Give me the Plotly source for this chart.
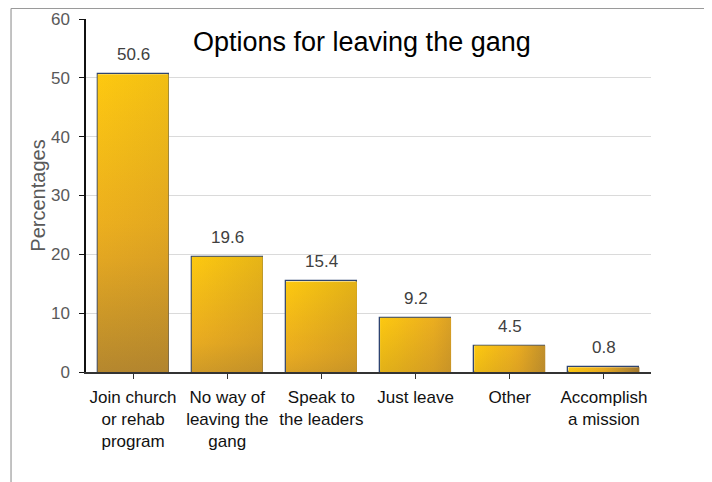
import plotly.graph_objects as go

categories = ["Join church<br>or rehab<br>program", "No way of<br>leaving the<br>gang",
              "Speak to<br>the leaders", "Just leave", "Other", "Accomplish<br>a mission"]
values = [50.6, 19.6, 15.4, 9.2, 4.5, 0.8]
value_labels = ["50.6", "19.6", "15.4", "9.2", "4.5", "0.8"]
y_ticks = [0, 10, 20, 30, 40, 50, 60]

# layout geometry (figure is offset 8px by the page margin)
FIG_W, FIG_H = 704, 474
M_L, M_R, M_T, M_B = 78, 61, 11, 110
PLOT_W = FIG_W - M_L - M_R
PLOT_H = FIG_H - M_T - M_B
Y_MAX = 60
BAR_W = 0.754

# gradient stops (position along diagonal, rgb)
GRAD = [(0.0, (253, 201, 16)), (0.45, (234, 172, 32)), (0.8, (182, 136, 46)), (1.0, (150, 110, 45))]
DARK = GRAD[-1][1]
# alpha needed to blend yellow->dark to approximate GRAD at t
ALPHA = [(0.0, 0.0), (0.45, 0.27), (0.8, 0.72), (1.0, 1.0)]


def interp(stops, t):
    for (t0, c0), (t1, c1) in zip(stops, stops[1:]):
        if t <= t1:
            f = (t - t0) / (t1 - t0) if t1 > t0 else 0
            if isinstance(c0, tuple):
                return tuple(round(a + (b - a) * f) for a, b in zip(c0, c1))
            return c0 + (c1 - c0) * f
    return stops[-1][1]


def rgb(c, a=1.0):
    return f"rgba({c[0]},{c[1]},{c[2]},{a:.3f})"


fig = go.Figure()
xs = list(range(len(categories)))
N = 8
for i, v in zip(xs, values):
    px = [i - BAR_W / 2, i + BAR_W / 2, i + BAR_W / 2, i - BAR_W / 2, i - BAR_W / 2]
    py = [0, 0, v, v, 0]
    w_px = BAR_W * PLOT_W / len(categories)
    h_px = v * PLOT_H / Y_MAX
    p = w_px / (w_px + h_px)  # horizontal share
    q = 1 - p                 # vertical share
    s_list = [k / N for k in range(N + 1)]
    if q >= p:
        base = dict(type="vertical",
                    colorscale=[[1 - s, rgb(interp(GRAD, q * s))] for s in reversed(s_list)])
        over = dict(type="horizontal",
                    colorscale=[[s, rgb(DARK, interp(ALPHA, p * s))] for s in s_list])
    else:
        base = dict(type="horizontal",
                    colorscale=[[s, rgb(interp(GRAD, p * s))] for s in s_list])
        over = dict(type="vertical",
                    colorscale=[[1 - s, rgb(DARK, interp(ALPHA, q * s))] for s in reversed(s_list)])
    for fg in (base, over):
        fig.add_trace(go.Scatter(x=px, y=py, mode="lines", fill="toself", line=dict(width=0),
                                 fillgradient=fg, hoverinfo="skip", showlegend=False))

fig.add_trace(go.Bar(
    x=xs, y=values, width=BAR_W,
    marker=dict(color="rgba(0,0,0,0)", line=dict(color="#2E4470", width=1.3)),
    showlegend=False, hoverinfo="skip"))

for i, v, t in zip(xs, values, value_labels):
    fig.add_annotation(x=i, y=v, text=t, showarrow=False, yanchor="bottom", yshift=8,
                       font=dict(size=17, color="#404040"))

fig.add_annotation(xref="paper", yref="paper", x=0.4885, y=0.935, text="Options for leaving the gang",
                   showarrow=False, xanchor="center", yanchor="middle",
                   font=dict(size=27, color="#000000"))

# outer frame lines
fig.add_shape(type="line", xref="paper", yref="paper", x0=-0.1327, x1=1.2, y0=1.0297, y1=1.0297,
              line=dict(color="#9A9A9A", width=1.2))
fig.add_shape(type="line", xref="paper", yref="paper", x0=-0.1327, x1=-0.1327, y0=1.0297, y1=-0.35,
              line=dict(color="#9A9A9A", width=1.2))

fig.update_layout(
    width=FIG_W, height=FIG_H,
    margin=dict(l=M_L, r=M_R, t=M_T, b=M_B, autoexpand=False),
    paper_bgcolor="white", plot_bgcolor="white",
    font=dict(family="Liberation Sans, Arial, sans-serif", size=17, color="#595959"),
    bargap=0,
)
fig.update_xaxes(
    range=[-0.5, len(categories) - 0.5], tickmode="array", tickvals=xs, ticktext=categories,
    showline=True, linecolor="#333333", linewidth=1.5, ticks="outside", ticklen=5,
    tickcolor="#333333", showgrid=False, zeroline=False, ticklabelstandoff=4, automargin=False,
    tickfont=dict(size=17, color="#111111"), layer="above traces")
fig.update_yaxes(
    range=[0, Y_MAX], tickmode="array", tickvals=y_ticks,
    showline=True, linecolor="#111111", linewidth=1.5, ticks="outside", ticklen=5,
    tickcolor="#111111", showgrid=True, gridcolor="#DADADA", gridwidth=1.2, zeroline=False,
    ticklabelstandoff=6, automargin=False, tickfont=dict(size=17, color="#595959"),
    layer="above traces",
    title=dict(text="Percentages", standoff=0, font=dict(size=20, color="#595959")))

fig.write_html("out.html")
